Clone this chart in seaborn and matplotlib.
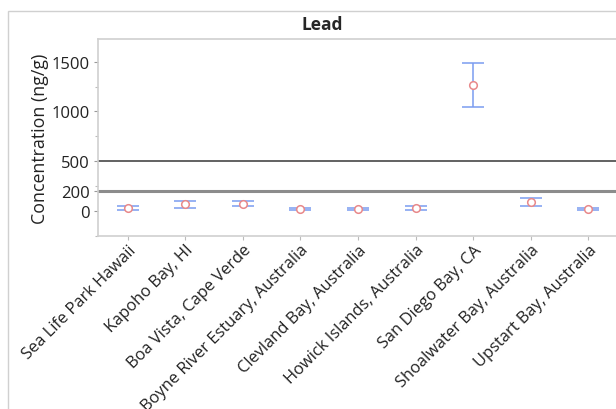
import numpy as np
import pandas as pd
import matplotlib.pyplot as plt
import seaborn as sns
from matplotlib.patches import Rectangle
from matplotlib.ticker import FixedLocator

# data
sites = ["Sea Life Park Hawaii", "Kapoho Bay, HI", "Boa Vista, Cape Verde",
         "Boyne River Estuary, Australia", "Clevland Bay, Australia",
         "Howick Islands, Australia", "San Diego Bay, CA",
         "Shoalwater Bay, Australia", "Upstart Bay, Australia"]
means = [27, 65, 70, 17, 17, 27, 1268, 90, 20]
errs = [18, 35, 25, 8, 14, 18, 220, 38, 12]
y_ticks = [0, 200, 500, 1000, 1500]
y_minor = [-250, 250, 750, 1250]
ref_lines = [500, 200]

df = pd.DataFrame({"site": sites, "conc": means, "err": errs})

sns.set_style("white")
plt.rcParams["font.family"] = ["Open Sans", "DejaVu Sans"]

fig = plt.figure(figsize=(6.16, 4.10), dpi=100)
ax = fig.add_axes([98 / 616, 1 - 237 / 410, 1 - 98 / 616, (237 - 40) / 410])

# outer panel border
fig.patches.append(Rectangle((8 / 616, -0.1), 1.2, 1.1 - 12 / 410,
                             transform=fig.transFigure, fill=False,
                             edgecolor="#d0d0d0", lw=1))

ax.axhline(ref_lines[0], color="#555555", lw=1.3, zorder=1)
ax.axhline(ref_lines[1], color="#8c8c8c", lw=2.2, zorder=1)

x = np.arange(len(sites))
ax.errorbar(x, df["conc"], yerr=df["err"], fmt="none", ecolor="#7b9cf0",
            elinewidth=1.1, capsize=8, capthick=1.1, zorder=2)
sns.scatterplot(data=df, x="site", y="conc", ax=ax, marker="o", s=30,
                facecolor="white", edgecolor="#e8888a", linewidth=1.1, zorder=3)

ax.set_xlim(-0.515, 8.48)
ax.set_ylim(-255, 1730)
ax.set_yticks(y_ticks)
ax.yaxis.set_minor_locator(FixedLocator(y_minor))
ax.tick_params(axis="y", which="major", left=True, length=3, width=0.8,
               color="#999999", labelsize=12, pad=3, labelcolor="#222222")
ax.tick_params(axis="y", which="minor", left=True, length=2, width=0.8,
               color="#bbbbbb")
ax.tick_params(axis="x", bottom=True, length=3, color="#bbbbbb",
               labelsize=11.9, pad=1, labelcolor="#222222")
plt.setp(ax.get_xticklabels(), rotation=45, ha="right", rotation_mode="anchor")

ax.set_xlabel("")
ax.set_ylabel("Concentration (ng/g)", fontsize=12.8, color="#222222", labelpad=2)
ax.set_title("Lead", fontsize=12.5, fontweight="bold", pad=7, x=0.432)

for side in ["left", "top", "bottom"]:
    ax.spines[side].set_color("#d0d0d0")
    ax.spines[side].set_linewidth(1.2)
ax.spines["right"].set_visible(False)

fig.savefig("out.png", dpi=100)
